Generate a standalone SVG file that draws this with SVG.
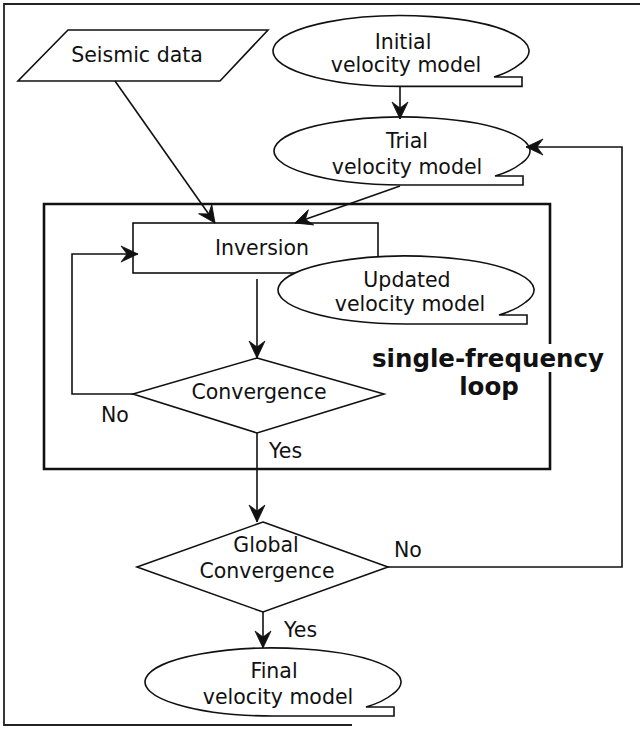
<svg xmlns="http://www.w3.org/2000/svg" xmlns:xlink="http://www.w3.org/1999/xlink" width="640" height="733" viewBox="0 0 640 733">
  <defs>
    <style>
      .t { font-family: "DejaVu Sans", Verdana, sans-serif; font-size: 20.5px; fill: #111; text-anchor: middle; }
      .ts { font-family: "DejaVu Sans", Verdana, sans-serif; font-size: 20.5px; fill: #111; text-anchor: start; }
      .tb { font-family: "DejaVu Sans", Verdana, sans-serif; font-size: 24.5px; font-weight: bold; fill: #111; text-anchor: middle; }
      .shape { fill: #fff; stroke: #111; stroke-width: 1.6; stroke-linejoin: miter; }
      .frame { fill: none; stroke: #111; stroke-width: 2.6; }
      .border { fill: none; stroke: #222; stroke-width: 1.8; }
      .conn { fill: none; stroke: #111; stroke-width: 1.6; }
      .arr { marker-end: url(#ah); }
    </style>
    <marker id="ah" viewBox="-19 -9 20 18" refX="0" refY="0" markerWidth="20" markerHeight="18" markerUnits="userSpaceOnUse" orient="auto">
      <path d="M0,0 L-17,-8 L-11,0 L-17,8 Z" fill="#111" stroke="#111" stroke-width="0.8" stroke-linejoin="round"/>
    </marker>
    <path id="tape" d="M0,34 H121 V25 H93 Q110,20 119.8,12 A128,34 0 1 0 0,34 Z"/>
  </defs>

  <rect x="0" y="0" width="640" height="733" fill="#fff"/>
  <path class="border" d="M640,4 H4 V725 H352"/>

  <g id="loop-frame">
    <path class="frame" d="M550,344 V204 H44 V469 H550 V372"/>
    <text class="tb" x="488" y="367">single-frequency</text>
    <text class="tb" x="489" y="395">loop</text>
  </g>

  <g id="seismic-data">
    <polygon class="shape" points="68,30 268,30 220,81 18,81"/>
    <text class="t" x="137" y="62">Seismic data</text>
  </g>

  <g id="initial-model">
    <use xlink:href="#tape" href="#tape" class="shape" transform="translate(401,51) scale(1,1.04)"/>
    <text class="t" x="403" y="49">Initial</text>
    <text class="t" x="406" y="72">velocity model</text>
  </g>

  <g id="trial-model">
    <use xlink:href="#tape" href="#tape" class="shape" transform="translate(402,151)"/>
    <text class="t" x="407" y="148">Trial</text>
    <text class="t" x="407" y="174">velocity model</text>
  </g>

  <g id="inversion">
    <rect class="shape" x="133" y="223" width="245" height="50"/>
    <text class="t" x="262" y="255">Inversion</text>
  </g>

  <g id="updated-model">
    <use xlink:href="#tape" href="#tape" class="shape" transform="translate(406,290)"/>
    <text class="t" x="407" y="287">Updated</text>
    <text class="t" x="410" y="311">velocity model</text>
  </g>

  <g id="convergence">
    <polygon class="shape" points="257,358 384,394 257,433 133,394"/>
    <text class="t" x="259" y="399">Convergence</text>
  </g>

  <g id="global-convergence">
    <polygon class="shape" points="263,522 388,567 263,612 137,567"/>
    <text class="t" x="266" y="552">Global</text>
    <text class="t" x="267" y="578">Convergence</text>
  </g>

  <g id="final-model">
    <use xlink:href="#tape" href="#tape" class="shape" transform="translate(273,682)"/>
    <text class="t" x="274" y="678">Final</text>
    <text class="t" x="278" y="704">velocity model</text>
  </g>

  <g id="connectors">
    <line class="conn arr" x1="400" y1="86" x2="400" y2="119"/>
    <line class="conn arr" x1="115" y1="81" x2="215" y2="223"/>
    <line class="conn arr" x1="400" y1="186" x2="295" y2="223"/>
    <line class="conn arr" x1="257" y1="279" x2="257" y2="358"/>
    <polyline class="conn arr" points="133,394 72,394 72,254 138,254"/>
    <line class="conn arr" x1="257" y1="433" x2="257" y2="522"/>
    <polyline class="conn arr" points="388,567 622,567 622,147 526,147"/>
    <line class="conn arr" x1="263" y1="612" x2="263" y2="648"/>
    <text class="ts" x="101" y="422">No</text>
    <text class="ts" x="269" y="458">Yes</text>
    <text class="ts" x="394" y="557">No</text>
    <text class="ts" x="284" y="637">Yes</text>
  </g>
</svg>
